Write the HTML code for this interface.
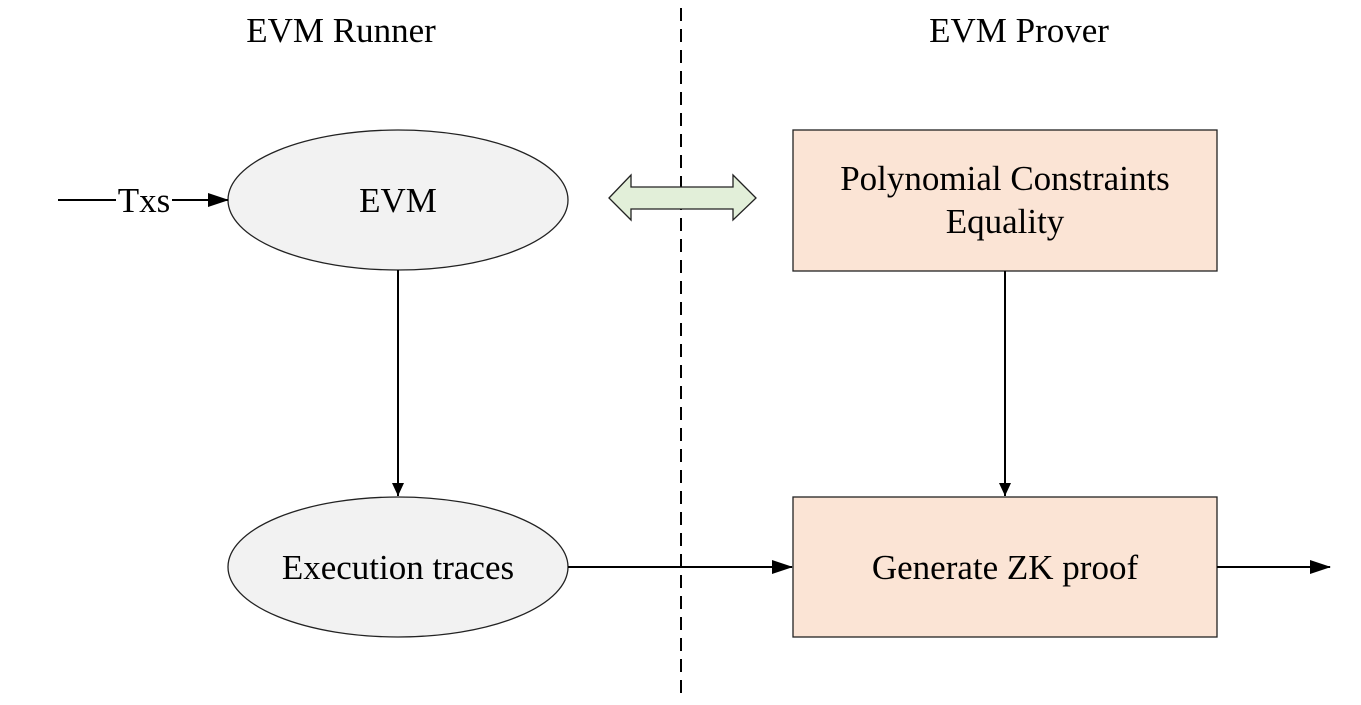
<!DOCTYPE html>
<html><head><style>body{margin:0;background:#fff}</style></head><body>
<svg width="1361" height="700" xmlns="http://www.w3.org/2000/svg" font-family="Liberation Serif, serif">
<defs><marker id="a" markerWidth="14" markerHeight="14" refX="13" refY="6" orient="auto" markerUnits="userSpaceOnUse"><path d="M0,0 L13,6 L0,12 z" fill="#000"/></marker>
<marker id="b" markerWidth="22" markerHeight="14" refX="20" refY="7" orient="auto" markerUnits="userSpaceOnUse"><path d="M0,0 L21,7 L0,14 z" fill="#000"/></marker></defs>
<text x="341" y="42" font-size="35" text-anchor="middle">EVM Runner</text>
<text x="1019" y="42" font-size="35" text-anchor="middle">EVM Prover</text>
<line x1="681" y1="8" x2="681" y2="695" stroke="#000" stroke-width="2" stroke-dasharray="13,8"/>
<ellipse cx="398" cy="200" rx="170" ry="70" fill="#f2f2f2" stroke="#222" stroke-width="1.3"/>
<text x="398" y="212" font-size="35" text-anchor="middle">EVM</text>
<ellipse cx="398" cy="567" rx="170" ry="70" fill="#f2f2f2" stroke="#222" stroke-width="1.3"/>
<text x="398" y="579" font-size="35" text-anchor="middle">Execution traces</text>
<rect x="793" y="130" width="424" height="141" fill="#fbe4d5" stroke="#222" stroke-width="1.3"/>
<text x="1005" y="190" font-size="35" text-anchor="middle">Polynomial Constraints</text>
<text x="1005" y="233" font-size="35" text-anchor="middle">Equality</text>
<rect x="793" y="497" width="424" height="140" fill="#fbe4d5" stroke="#222" stroke-width="1.3"/>
<text x="1005" y="579" font-size="35" text-anchor="middle">Generate ZK proof</text>
<line x1="58" y1="200" x2="116" y2="200" stroke="#000" stroke-width="2"/>
<text x="144" y="212" font-size="35" text-anchor="middle">Txs</text>
<line x1="172" y1="200" x2="228" y2="200" stroke="#000" stroke-width="2" marker-end="url(#b)"/>
<path d="M609,198 L631,175 L631,187 L733,187 L733,175 L756,198 L733,220 L733,209 L631,209 L631,220 z" fill="#e2efd9" stroke="#222" stroke-width="1.3"/>
<line x1="398" y1="270" x2="398" y2="496" stroke="#000" stroke-width="2" marker-end="url(#a)"/>
<line x1="1005" y1="271" x2="1005" y2="496" stroke="#000" stroke-width="2" marker-end="url(#a)"/>
<line x1="568" y1="567" x2="792" y2="567" stroke="#000" stroke-width="2" marker-end="url(#b)"/>
<line x1="1217" y1="567" x2="1330" y2="567" stroke="#000" stroke-width="2" marker-end="url(#b)"/>
</svg>
</body></html>
